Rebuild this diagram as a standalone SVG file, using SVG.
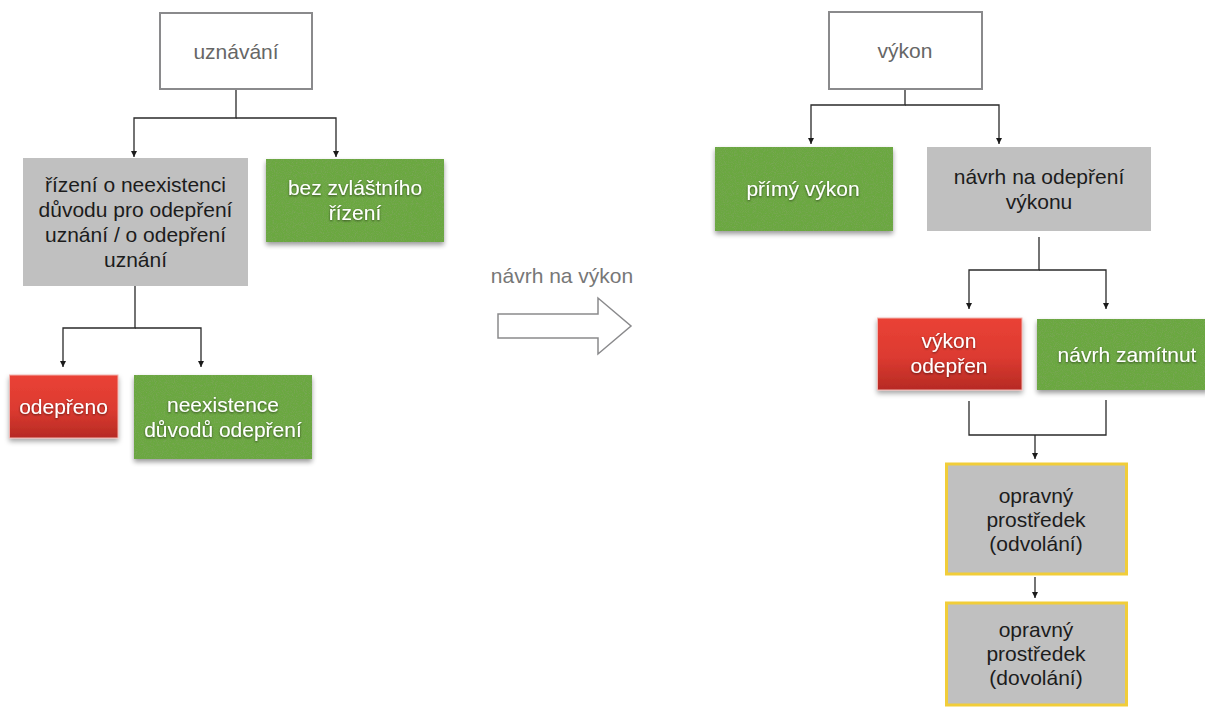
<svg xmlns="http://www.w3.org/2000/svg" width="1205" height="708" viewBox="0 0 1205 708">
<defs>
<style>
text{font-family:"Liberation Sans",Arial,Helvetica,sans-serif;font-size:21px;text-anchor:middle}
.outline{fill:#fff;stroke:#8a8a8c;stroke-width:2}
.outline-t{fill:#666}
.gray{fill:#c0c0c0}
.dark{fill:#1c1c1c}
.green{fill:#6aa840}
.red{fill:url(#redg);stroke:#f2b4b0;stroke-width:1}
.white{fill:#fff;filter:url(#tshadow)}
.yellow{fill:#c0c0c0;stroke:#f1cd39;stroke-width:3}
.conn{fill:none;stroke:#2a2a2a;stroke-width:1.3}
</style>
<linearGradient id="redg" x1="0" y1="0" x2="0" y2="1">
<stop offset="0" stop-color="#ea4236"/>
<stop offset="0.55" stop-color="#dc3a30"/>
<stop offset="1" stop-color="#b62a24"/>
</linearGradient>
<filter id="tex" x="-10%" y="-10%" width="120%" height="135%">
<feGaussianBlur in="SourceAlpha" stdDeviation="2.5" result="b"/>
<feOffset in="b" dy="3" result="o"/>
<feComponentTransfer in="o" result="sh"><feFuncA type="linear" slope="0.4"/></feComponentTransfer>
<feTurbulence type="fractalNoise" baseFrequency="1.1" numOctaves="2" seed="4" result="n"/>
<feColorMatrix in="n" type="matrix" values="0 0 0 0 0.2  0 0 0 0 0.38  0 0 0 0 0.1  0 0 0 2.2 -0.95" result="nc"/>
<feComposite in="nc" in2="SourceGraphic" operator="in" result="nt"/>
<feMerge><feMergeNode in="sh"/><feMergeNode in="SourceGraphic"/><feMergeNode in="nt"/></feMerge>
</filter>
<filter id="shadow" x="-10%" y="-10%" width="120%" height="135%">
<feDropShadow dx="0" dy="3" stdDeviation="2.5" flood-color="#000" flood-opacity="0.35"/>
</filter>
<filter id="tshadow" x="-10%" y="-20%" width="120%" height="150%">
<feDropShadow dx="0" dy="1" stdDeviation="1" flood-color="#000" flood-opacity="0.55"/>
</filter>
<marker id="ah" viewBox="0 0 10 10" refX="10" refY="5" markerWidth="6" markerHeight="6" orient="auto" markerUnits="userSpaceOnUse">
<path d="M0,0 L10,5 L0,10 z" fill="#1a1a1a"/>
</marker>
</defs>
<rect width="1205" height="708" fill="#fff"/>

<g id="connectors">
<path class="conn" d="M236,89 V118 H134 V157" marker-end="url(#ah)"/>
<path class="conn" d="M236,118 H336 V157" marker-end="url(#ah)"/>
<path class="conn" d="M135,286 V328 H63 V367" marker-end="url(#ah)"/>
<path class="conn" d="M135,328 H201 V367" marker-end="url(#ah)"/>
<path class="conn" d="M905,89 V105 H811 V144" marker-end="url(#ah)"/>
<path class="conn" d="M905,105 H999 V144" marker-end="url(#ah)"/>
<path class="conn" d="M1039,237 V270 H969 V309" marker-end="url(#ah)"/>
<path class="conn" d="M1039,270 H1106 V309" marker-end="url(#ah)"/>
<path class="conn" d="M969,401 V435 H1106 V400"/>
<path class="conn" d="M1035,435 V459" marker-end="url(#ah)"/>
<path class="conn" d="M1035,577 V598" marker-end="url(#ah)"/>
</g>

<g id="n_uznavani">
<rect class="outline" x="160" y="13" width="152" height="76"/>
<text class="outline-t" x="236" y="59">uznávání</text>
</g>
<g id="n_rizeni">
<rect class="gray" x="23" y="158" width="225" height="128"/>
<text class="dark" x="135.5" y="192">řízení o neexistenci</text>
<text class="dark" x="135.5" y="217">důvodu pro odepření</text>
<text class="dark" x="135.5" y="242">uznání / o odepření</text>
<text class="dark" x="135.5" y="267">uznání</text>
</g>
<g id="n_bez">
<rect class="green" filter="url(#tex)" x="266" y="159" width="178" height="83"/>
<text class="white" x="355" y="195">bez zvláštního</text>
<text class="white" x="355" y="220">řízení</text>
</g>
<g id="n_odepreno">
<rect class="red" filter="url(#shadow)" x="9.5" y="375" width="108.5" height="63"/>
<text class="white" x="63.5" y="414">odepřeno</text>
</g>
<g id="n_neexistence">
<rect class="green" filter="url(#tex)" x="134" y="375" width="178" height="84"/>
<text class="white" x="223" y="412">neexistence</text>
<text class="white" x="223" y="437">důvodů odepření</text>
</g>

<g id="n_navrh_na_vykon">
<text x="562" y="283" fill="#777">návrh na výkon</text>
<polygon points="498,314 598,314 598,298 631,326 598,354 598,338 498,338" fill="#fff" stroke="#8a8a8c" stroke-width="1.5"/>
</g>

<g id="n_vykon">
<rect class="outline" x="829" y="12" width="153" height="77"/>
<text class="outline-t" x="905" y="58">výkon</text>
</g>
<g id="n_primy">
<rect class="green" filter="url(#tex)" x="715" y="147" width="178" height="84"/>
<text class="white" x="803" y="196">přímý výkon</text>
</g>
<g id="n_navrh_odepreni">
<rect class="gray" x="927" y="147" width="224" height="84"/>
<text class="dark" x="1039" y="184">návrh na odepření</text>
<text class="dark" x="1039" y="209">výkonu</text>
</g>
<g id="n_vykon_odepren">
<rect class="red" filter="url(#shadow)" x="877.5" y="318" width="144.5" height="72"/>
<text class="white" x="949" y="348">výkon</text>
<text class="white" x="949" y="373">odepřen</text>
</g>
<g id="n_zamitnut">
<rect class="green" filter="url(#tex)" x="1037" y="319" width="172" height="71"/>
<text class="white" x="1127" y="362">návrh zamítnut</text>
</g>
<g id="n_odvolani">
<rect class="yellow" x="946.5" y="464" width="180" height="110"/>
<text class="dark" x="1036" y="503">opravný</text>
<text class="dark" x="1036" y="527">prostředek</text>
<text class="dark" x="1036" y="551">(odvolání)</text>
</g>
<g id="n_dovolani">
<rect class="yellow" x="946.5" y="603" width="180" height="102"/>
<text class="dark" x="1036" y="637">opravný</text>
<text class="dark" x="1036" y="661">prostředek</text>
<text class="dark" x="1036" y="685">(dovolání)</text>
</g>
</svg>
